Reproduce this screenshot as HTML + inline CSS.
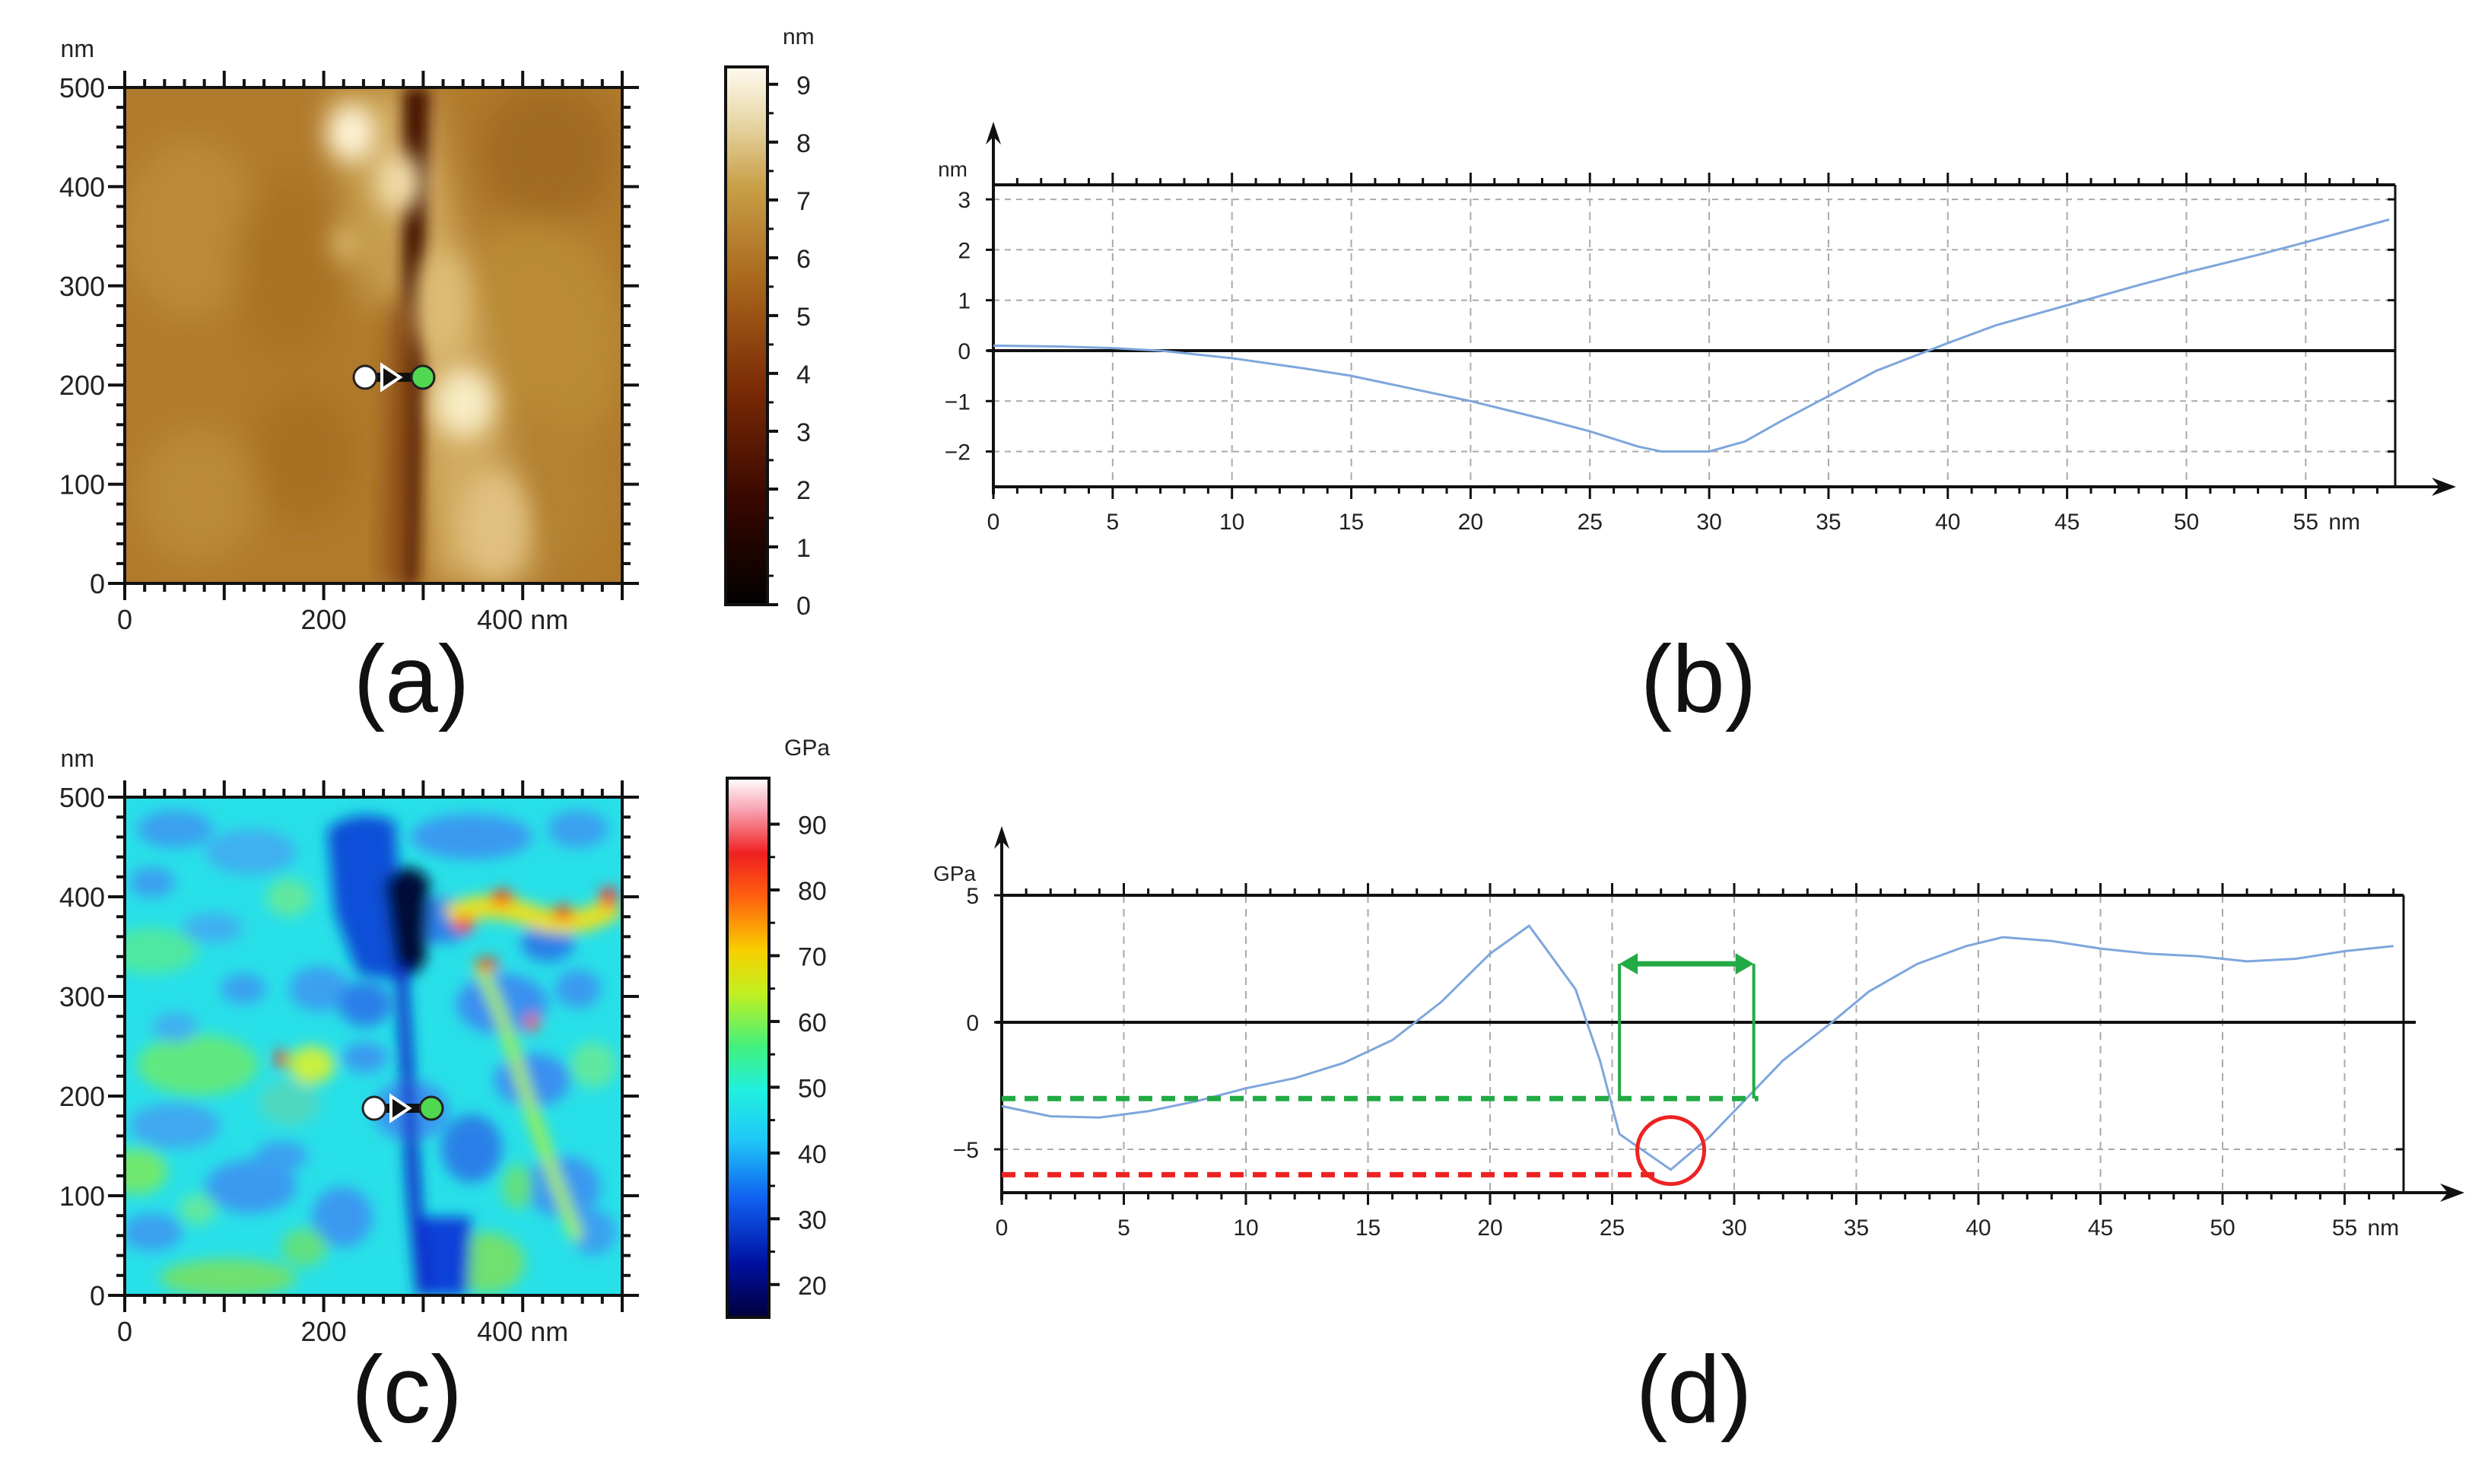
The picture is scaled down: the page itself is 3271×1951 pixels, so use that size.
<!DOCTYPE html>
<html><head><meta charset="utf-8"><style>
html,body{margin:0;padding:0;background:#fff;}
svg{display:block;font-family:"Liberation Sans",sans-serif;}
</style></head><body>
<svg id="fig" width="3271" height="1951" viewBox="0 0 3271 1951" xmlns="http://www.w3.org/2000/svg">
<defs>
<filter id="b1" x="-50%" y="-50%" width="200%" height="200%"><feGaussianBlur stdDeviation="22"/></filter>
<filter id="b2" x="-50%" y="-50%" width="200%" height="200%"><feGaussianBlur stdDeviation="9"/></filter>
<filter id="b3" x="-50%" y="-50%" width="200%" height="200%"><feGaussianBlur stdDeviation="16"/></filter>
<clipPath id="ca"><rect x="164" y="115" width="654" height="652"/></clipPath>
<clipPath id="cc"><rect x="164" y="1048" width="654" height="655"/></clipPath>
<linearGradient id="ga" x1="0" y1="1" x2="0" y2="0">
<stop offset="0" stop-color="#000"/><stop offset="0.2" stop-color="#3a0800"/><stop offset="0.4" stop-color="#7a2a05"/><stop offset="0.6" stop-color="#a8661c"/><stop offset="0.78" stop-color="#c9a048"/><stop offset="0.9" stop-color="#e8d8a8"/><stop offset="1" stop-color="#fffaf0"/></linearGradient>
<linearGradient id="gc" x1="0" y1="1" x2="0" y2="0">
<stop offset="0" stop-color="#00003a"/><stop offset="0.1" stop-color="#0010a0"/><stop offset="0.22" stop-color="#1060f0"/><stop offset="0.33" stop-color="#20c8f8"/><stop offset="0.42" stop-color="#20f0e0"/><stop offset="0.5" stop-color="#40f080"/><stop offset="0.6" stop-color="#c0f020"/><stop offset="0.68" stop-color="#f8d000"/><stop offset="0.78" stop-color="#ff6010"/><stop offset="0.86" stop-color="#f02020"/><stop offset="0.94" stop-color="#f8a0b0"/><stop offset="1" stop-color="#fff"/></linearGradient>
</defs>
<g id="root"></g>
</svg>
<script>
// ---- data ----
const bX = [0,3,5,7,10,13,15,18,20,23,25,27,28,30,31.5,33,35,37,40,42,45,48,50,53,55,58.5];
const bY = [0.1,0.08,0.05,0,-0.15,-0.35,-0.5,-0.8,-1.0,-1.35,-1.6,-1.9,-2.0,-2.0,-1.8,-1.4,-0.9,-0.4,0.15,0.5,0.9,1.3,1.55,1.9,2.15,2.6];
const bXTicks = [0,5,10,15,20,25,30,35,40,45,50,55];
const bYTicks = [-2,-1,0,1,2,3];
const dX = [0,2,4,6,8,10,12,14,16,18,20,21.6,23.5,24.5,25.3,27.4,29,30.5,32,34,35.5,37.5,39.5,41,43,45,47,49,51,53,55,57];
const dY = [-3.3,-3.7,-3.75,-3.5,-3.1,-2.6,-2.2,-1.6,-0.7,0.8,2.7,3.8,1.3,-1.5,-4.4,-5.8,-4.5,-3.0,-1.5,0,1.2,2.3,3.0,3.35,3.2,2.9,2.7,2.6,2.4,2.5,2.8,3.0];
const dXTicks = [0,5,10,15,20,25,30,35,40,45,50,55];
const dYTicks = [-5,0,5];
const mapTicks = [0,100,200,300,400,500];
const cbaTicks = [0,1,2,3,4,5,6,7,8,9];
const cbcTicks = [20,30,40,50,60,70,80,90];

const NS="http://www.w3.org/2000/svg";
const root=document.getElementById('root');
function el(tag,attrs,parent,txt){const e=document.createElementNS(NS,tag);for(const k in attrs)e.setAttribute(k,attrs[k]);if(txt!==undefined)e.textContent=txt;(parent||root).appendChild(e);return e;}

// ---- heatmap panels ----
function mapPanel(id,x0,y0,w,h,letter,lx,ly){
  const g=el('g',{});
  
  
  const sx=v=>x0+v/500*w, sy=v=>y0+h-v/500*h;
  el('rect',{x:x0,y:y0,width:w,height:h,fill:'none',stroke:'#111','stroke-width':4},g);
  for(let v=0;v<=500;v+=20){
    const maj=v%100===0, L=maj?22:11;
    el('line',{x1:sx(v),y1:y0+h,x2:sx(v),y2:y0+h+L,stroke:'#111','stroke-width':4},g);
    el('line',{x1:sx(v),y1:y0,x2:sx(v),y2:y0-L,stroke:'#111','stroke-width':4},g);
    el('line',{x1:x0,y1:sy(v),x2:x0-L,y2:sy(v),stroke:'#111','stroke-width':4},g);
    el('line',{x1:x0+w,y1:sy(v),x2:x0+w+L,y2:sy(v),stroke:'#111','stroke-width':4},g);
  }
  mapTicks.forEach(v=>{
    const t=el('text',{x:x0-26,y:sy(v)+13,'font-size':36,'text-anchor':'end',fill:'#222'},g,String(v));
    
    
    if(v%200===0&&v<500){const s=el('text',{x:sx(v),y:y0+h+60,'font-size':36,'text-anchor':'middle',fill:'#222'},g,v===400?'400 nm':String(v));
      
      }
  });
  const u=el('text',{x:x0-40,y:y0-40,'font-size':32,'text-anchor':'end',fill:'#222'},g,'nm');
  
  
  const L=el('text',{x:lx,y:ly,'font-size':125,'text-anchor':'middle',fill:'#111'},g,'('+letter+')');
  
  
  return g;
}

// Panel a image
const ia=el('g',{'clip-path':'url(#ca)'});


el('rect',{x:164,y:115,width:654,height:652,fill:'#b07a2c'},ia);
const ga=el('g',{filter:'url(#b1)'},ia);
[[250,300,90,120,'#bb8a38'],[700,450,120,160,'#ba8a36'],[380,350,70,120,'#a87222'],[720,200,90,90,'#a06a22'],[260,650,80,90,'#ba8a38'],[400,600,70,90,'#a87024'],[700,650,90,110,'#b48230']].forEach(e=>el('ellipse',{cx:e[0],cy:e[1],rx:e[2],ry:e[3],fill:e[4]},ga));
el('polygon',{points:'500,115 560,115 700,767 570,767',fill:'#d2ab60'},ga);
el('polygon',{points:'430,115 500,115 520,400 480,400',fill:'#c8a050'},ga);
el('polygon',{points:'530,115 565,115 548,767 528,767',fill:'#4a1806',filter:'url(#b2)'},ia);
el('polygon',{points:'515,400 545,400 535,767 505,767',fill:'#8a4a14',filter:'url(#b3)'},ia);
const ga2=el('g',{filter:'url(#b3)'},ia);
[[462,175,32,38,'#fff4d8'],[525,240,32,40,'#f0dca8'],[455,320,20,25,'#d8b468'],[610,530,40,45,'#f8ecc4'],[580,400,35,70,'#dcbc74'],[650,690,45,70,'#e0c080']].forEach(e=>el('ellipse',{cx:e[0],cy:e[1],rx:e[2],ry:e[3],fill:e[4]},ga2));
mapPanel('a',164,115,654,652,'a',541,936);

// Panel c image
const ic=el('g',{'clip-path':'url(#cc)'});


el('rect',{x:164,y:1048,width:654,height:655,fill:'#28e0e8'},ic);
const gc=el('g',{filter:'url(#b2)'},ic);
const blobs=[[230,1090,50,25,'#3aa0f0'],[330,1120,60,30,'#40b0f0'],[620,1100,80,30,'#3a9af0'],[760,1090,40,25,'#3aa0f0'],[200,1250,60,30,'#50e8a0'],[260,1400,80,40,'#60e880'],[230,1480,60,30,'#40a8f0'],[330,1560,60,35,'#3a9af0'],[450,1600,40,40,'#3a9af0'],[300,1680,90,25,'#70e070'],[660,1320,60,40,'#3a90f0'],[700,1420,50,35,'#3a90f0'],[740,1560,50,40,'#3a98f0'],[420,1300,40,30,'#3aa0f0'],[380,1450,40,30,'#50d8c0'],[640,1660,50,40,'#70e070'],[580,1210,45,30,'#2a80e8'],[480,1320,35,30,'#2a80e8'],[620,1510,40,45,'#2a80e8'],[180,1540,40,30,'#70e870'],[540,1460,50,40,'#3a98f0'],
[200,1160,30,20,'#3aa0f0'],[280,1220,40,20,'#40b0f0'],[380,1180,30,25,'#60e8a0'],[320,1300,30,20,'#3aa0f0'],[230,1350,30,20,'#40b0f0'],[410,1400,30,25,'#c8f040'],[480,1390,30,20,'#3a9af0'],[200,1620,40,25,'#3aa0f0'],[400,1640,30,25,'#60e080'],[370,1520,35,20,'#3aa0f0'],[760,1300,30,25,'#3a9af0'],[780,1400,30,30,'#60e8a0'],[780,1620,30,30,'#3aa0f0'],[720,1240,35,25,'#2a80e8'],[680,1560,20,30,'#60e080'],[260,1590,25,20,'#60e8a0']];
blobs.forEach(e=>el('ellipse',{cx:e[0],cy:e[1],rx:e[2],ry:e[3],fill:e[4]},gc));
el('path',{d:'M430,1090 Q470,1060 520,1080 L530,1290 L470,1280 L440,1200 Z',fill:'#1050d8'},gc);
el('path',{d:'M505,1160 Q540,1120 565,1160 L560,1260 Q540,1300 520,1270 Z',fill:'#000838'},gc);
el('path',{d:'M520,1270 L535,1270 L555,1600 L570,1703 L548,1703 L535,1560 Z',fill:'#0a28c8'},gc);
el('path',{d:'M555,1600 L620,1600 L615,1703 L565,1703 Z',fill:'#1040d8'},gc);
// hot ridges
el('path',{d:'M590,1205 Q640,1180 700,1205 Q760,1225 810,1190',fill:'none',stroke:'#e8e020','stroke-width':30},gc);
el('path',{d:'M630,1270 Q660,1330 680,1400 Q710,1500 760,1630',fill:'none',stroke:'#a8f040','stroke-width':16},gc);
[[610,1215,14,10,'#ff3010'],[660,1180,16,10,'#ff4010'],[740,1200,14,10,'#ff4010'],[800,1180,12,14,'#ff3030'],[640,1268,16,8,'#ff3010'],[370,1392,8,12,'#ff3010'],[700,1345,8,12,'#ff4010']].forEach(e=>el('ellipse',{cx:e[0],cy:e[1],rx:e[2],ry:e[3],fill:e[4]},gc));
mapPanel('c',164,1048,654,655,'c',535,1870);

// markers
function markers(y,x1,xg){
  const g=el('g',{});
  
  
  el('rect',{x:x1,y:y-6,width:xg-x1,height:12,fill:'#111'},g);
  el('circle',{cx:x1,cy:y,r:15,fill:'#fff',stroke:'#222','stroke-width':3},g);
  el('polygon',{points:`${x1+22},${y-16} ${x1+46},${y} ${x1+22},${y+16}`,fill:'#111',stroke:'#fff','stroke-width':4},g);
  el('circle',{cx:xg,cy:y,r:15,fill:'#50d850',stroke:'#222','stroke-width':3},g);
}
markers(496,480,556);
markers(1457,492,567);

// colorbars
function colorbar(x,y,w,h,grad,ticks,lo,hi,unit,id){
  const g=el('g',{});
  
  
  el('rect',{x:x,y:y,width:w,height:h,fill:'url(#'+grad+')',stroke:'#111','stroke-width':4},g);
  const sy=v=>y+h-(v-lo)/(hi-lo)*h;
  ticks.forEach(v=>{
    el('line',{x1:x+w,y1:sy(v),x2:x+w+14,y2:sy(v),stroke:'#111','stroke-width':4},g);
    const t=el('text',{x:x+w+38,y:sy(v)+13,'font-size':34,fill:'#222'},g,String(v));
    
    
  });
  for(let i=0;i<ticks.length-1;i++){const m=(ticks[i]+ticks[i+1])/2;el('line',{x1:x+w,y1:sy(m),x2:x+w+8,y2:sy(m),stroke:'#111','stroke-width':3},g);}
  const u=el('text',{x:x+w+20,y:y-30,'font-size':30,fill:'#222'},g,unit);
  
  
}
colorbar(954,88,55,707,'ga',cbaTicks,0,9.3,'nm','height');
colorbar(956,1023,55,709,'gc',cbcTicks,15,97,'GPa','modulus');

// ---- line charts ----
function lineChart(o){
  const g=el('g',{});
  
  
  const sx=v=>o.x0+v*o.kx, sy=v=>o.y0-v*o.ky;
  o.xTicks.forEach(v=>{if(v>0)el('line',{x1:sx(v),y1:o.top,x2:sx(v),y2:o.bot,stroke:'#aaa','stroke-width':2,'stroke-dasharray':'10,8'},g);});
  o.hGrid.forEach(v=>el('line',{x1:o.x0,y1:sy(v),x2:o.right,y2:sy(v),stroke:'#aaa','stroke-width':2,'stroke-dasharray':'8,7'},g));
  el('line',{x1:o.x0,y1:o.top,x2:o.right,y2:o.top,stroke:'#111','stroke-width':4},g);
  el('line',{x1:o.right,y1:o.top,x2:o.right,y2:o.bot,stroke:'#111','stroke-width':3},g);
  el('line',{x1:o.x0,y1:o.bot,x2:o.arrowX,y2:o.bot,stroke:'#111','stroke-width':4},g);
  el('polygon',{points:`${o.arrowX+14},${o.bot} ${o.arrowX-18},${o.bot-12} ${o.arrowX-8},${o.bot} ${o.arrowX-18},${o.bot+12}`,fill:'#111'},g);
  el('line',{x1:o.x0,y1:o.arrowTop,x2:o.x0,y2:o.bot+10,stroke:'#111','stroke-width':4},g);
  el('polygon',{points:`${o.x0},${o.arrowTop-12} ${o.x0-10},${o.arrowTop+18} ${o.x0},${o.arrowTop+8} ${o.x0+10},${o.arrowTop+18}`,fill:'#111'},g);
  el('line',{x1:o.x0-8,y1:sy(0),x2:o.right+(o.zeroExt||0),y2:sy(0),stroke:'#111','stroke-width':4},g);
  for(let v=0;v<=o.xMax;v+=1){const L=v%5===0?16:9;
    el('line',{x1:sx(v),y1:o.bot,x2:sx(v),y2:o.bot+L,stroke:'#111','stroke-width':3},g);
    el('line',{x1:sx(v),y1:o.top,x2:sx(v),y2:o.top-L,stroke:'#111','stroke-width':3},g);}
  o.xTicks.forEach(v=>{const t=el('text',{x:sx(v),y:o.bot+56,'font-size':30,'text-anchor':'middle',fill:'#222'},g,String(v));
    
    });
  const u=el('text',{x:sx(o.xTicks[o.xTicks.length-1])+30,y:o.bot+56,'font-size':30,fill:'#222'},g,'nm');
  
  
  o.yTicks.forEach(v=>{el('line',{x1:o.x0,y1:sy(v),x2:o.x0-10,y2:sy(v),stroke:'#111','stroke-width':3},g);
    el('line',{x1:o.right,y1:sy(v),x2:o.right-10,y2:sy(v),stroke:'#111','stroke-width':3},g);
    const t=el('text',{x:o.x0-30,y:sy(v)+11,'font-size':30,'text-anchor':'end',fill:'#222'},g,v<0?'−'+(-v):String(v));
    
    });
  const yu=el('text',{x:o.x0-34,y:o.arrowTop+60,'font-size':28,'text-anchor':'end',fill:'#222'},g,o.unit);
  
  
  const p=el('polyline',{points:o.xs.map((x,i)=>sx(x)+','+sy(o.ys[i])).join(' '),fill:'none',stroke:'#7ea6dc','stroke-width':3},g);
  
  
  const L=el('text',{x:o.lx,y:o.ly,'font-size':125,'text-anchor':'middle',fill:'#111'},g,'('+o.id+')');
  
  
  return {g,sx,sy};
}
lineChart({id:'b',x0:1306,kx:31.37,y0:461,ky:66.3,top:243,bot:640,right:3149,arrowX:3215,arrowTop:172,xMax:58,xTicks:bXTicks,yTicks:bYTicks,hGrid:[-2,-1,1,2,3],xs:bX,ys:bY,unit:'nm',lx:2233,ly:936});
const d=lineChart({id:'d',x0:1317,kx:32.1,y0:1344,ky:33.4,top:1177,bot:1568,right:3160,arrowX:3226,arrowTop:1098,xMax:57,xTicks:dXTicks,yTicks:dYTicks,hGrid:[-5],xs:dX,ys:dY,unit:'GPa',lx:2227,ly:1870,zeroExt:16});
// annotations
const an=el('g',{});


const gy=d.sy(-3), ay=d.sy(2.3), x25=d.sx(25.3), x31=d.sx(30.8);
el('line',{x1:d.sx(0),y1:gy,x2:x31+6,y2:gy,stroke:'#22aa44','stroke-width':7,'stroke-dasharray':'18,12'},an);
el('line',{x1:x25,y1:gy,x2:x25,y2:ay,stroke:'#22aa44','stroke-width':4},an);
el('line',{x1:x31,y1:gy,x2:x31,y2:ay,stroke:'#22aa44','stroke-width':4},an);
el('line',{x1:x25+16,y1:ay,x2:x31-16,y2:ay,stroke:'#22aa44','stroke-width':7},an);
el('polygon',{points:`${x25},${ay} ${x25+24},${ay-14} ${x25+24},${ay+14}`,fill:'#22aa44'},an);
el('polygon',{points:`${x31},${ay} ${x31-24},${ay-14} ${x31-24},${ay+14}`,fill:'#22aa44'},an);
el('line',{x1:d.sx(0),y1:d.sy(-6),x2:d.sx(26.8),y2:d.sy(-6),stroke:'#ee2222','stroke-width':7,'stroke-dasharray':'18,12'},an);
el('ellipse',{cx:d.sx(27.4),cy:d.sy(-5.05),rx:44,ry:44,fill:'none',stroke:'#ee2222','stroke-width':5},an);
</script>
</body></html>
